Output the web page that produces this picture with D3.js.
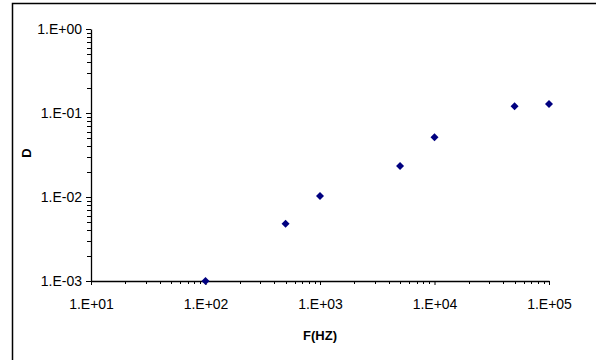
<!DOCTYPE html>
<html>
<head>
<meta charset="utf-8">
<script src="https://cdn.jsdelivr.net/npm/d3@7"></script>
<style>
  body { margin: 0; background: #fff; }
  svg { display: block; font-family: "Liberation Sans", Arial, sans-serif; }
</style>
</head>
<body>
<div id="chart"></div>
<script>
// datos
const freqs = [100, 500, 1000, 5000, 10000, 50000, 100000];
const dValues = [0.001, 0.0048, 0.0103, 0.0234, 0.0513, 0.120, 0.128];
const xTicks = [1e1, 1e2, 1e3, 1e4, 1e5];
const yTicks = [1e-3, 1e-2, 1e-1, 1e0];

const W = 596, H = 360;
const margin = { top: 29, right: 47, bottom: 79, left: 91 };
const width = W - margin.left - margin.right;
const height = H - margin.top - margin.bottom;

const fmt = v => {
  const e = Math.round(Math.log10(v));
  return "1.E" + (e < 0 ? "-" : "+") + String(Math.abs(e)).padStart(2, "0");
};

const svg = d3.select("#chart").append("svg")
  .attr("width", W).attr("height", H);

// marco exterior
svg.append("rect")
  .attr("x", 12.5).attr("y", 3.5)
  .attr("width", W).attr("height", H)
  .attr("fill", "none").attr("stroke", "#000").attr("stroke-width", 1.5);

const g = svg.append("g").attr("transform", `translate(${margin.left},${margin.top})`);

const x = d3.scaleLog().domain([1e1, 1e5]).range([0, width]);
const y = d3.scaleLog().domain([1e-3, 1e0]).range([height, 0]);

// ticks menores
const xMinor = [];
for (let p = 1; p < 5; p++) for (let k = 2; k <= 9; k++) xMinor.push(k * Math.pow(10, p));
const yMinor = [];
for (let p = -3; p < 0; p++) for (let k = 2; k <= 9; k++) yMinor.push(k * Math.pow(10, p));

g.selectAll(".xminor").data(xMinor).enter().append("line")
  .attr("x1", d => Math.round(x(d)) + 0.5).attr("x2", d => Math.round(x(d)) + 0.5)
  .attr("y1", height).attr("y2", height + 3)
  .attr("stroke", "#000");
g.selectAll(".yminor").data(yMinor).enter().append("line")
  .attr("y1", d => Math.round(y(d)) + 0.5).attr("y2", d => Math.round(y(d)) + 0.5)
  .attr("x1", -4).attr("x2", 0)
  .attr("stroke", "#000");

// ejes
const xAxis = g.append("g")
  .attr("transform", `translate(0,${height})`)
  .call(d3.axisBottom(x).tickValues(xTicks).tickFormat(fmt).tickSize(4).tickSizeOuter(0));
const yAxis = g.append("g")
  .call(d3.axisLeft(y).tickValues(yTicks).tickFormat(fmt).tickSize(5).tickSizeOuter(0));

[xAxis, yAxis].forEach(a => {
  a.attr("font-size", null).attr("font-family", null);
  a.select(".domain").attr("stroke", "#000").attr("stroke-width", 1.3);
  a.selectAll(".tick line").attr("stroke", "#000");
  a.selectAll("text").attr("fill", "#000")
    .style("font-size", "14px")
    .style("font-family", "'Liberation Sans', Arial, sans-serif");
});
xAxis.selectAll("text").attr("y", 18).attr("dy", "0.71em");
yAxis.selectAll("text").attr("x", -9);

// puntos (rombo)
const diamond = d3.symbol().type(d3.symbolSquare).size(32);
g.selectAll(".pt").data(freqs).enter().append("path")
  .attr("d", diamond)
  .attr("transform", (d, i) => `translate(${x(d)},${y(dValues[i])}) rotate(45)`)
  .attr("fill", "#000080");

// títulos
svg.append("text")
  .attr("x", 320).attr("y", 340)
  .attr("text-anchor", "middle")
  .style("font-size", "13px").attr("font-weight", "bold")
  .text("F(HZ)");
svg.append("text")
  .attr("transform", "translate(31,153) rotate(-90)")
  .attr("text-anchor", "middle")
  .style("font-size", "13px").attr("font-weight", "bold")
  .text("D");
</script>
</body>
</html>
